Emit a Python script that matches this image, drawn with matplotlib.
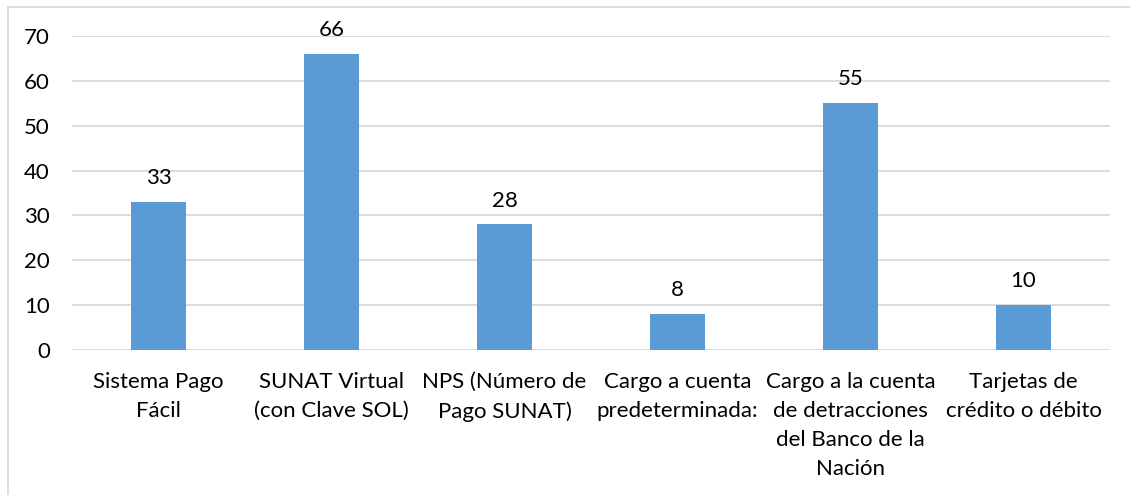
import matplotlib.pyplot as plt
from matplotlib.patches import Rectangle

categories = ["Sistema Pago\nFácil", "SUNAT Virtual\n(con Clave SOL)", "NPS (Número de\nPago SUNAT)",
              "Cargo a cuenta\npredeterminada:", "Cargo a la cuenta\nde detracciones\ndel Banco de la\nNación",
              "Tarjetas de\ncrédito o débito"]
values = [33, 66, 28, 8, 55, 10]
yticks = [0, 10, 20, 30, 40, 50, 60, 70]

W, H = 1130, 495
plt.rcParams["font.family"] = ["Lato", "DejaVu Sans"]

fig = plt.figure(figsize=(W / 100, H / 100), dpi=100)
ax = fig.add_axes([72 / W, (H - 350) / H, (1110 - 72) / W, (350 - 36) / H])

# chart border (cropped at right and bottom)
fig.patches.append(Rectangle((8 / W, -0.05), 1.1, (H - 7) / H + 0.05, transform=fig.transFigure,
                             fill=False, edgecolor="#D9D9D9", linewidth=1.3))

x = range(len(values))
bars = ax.bar(x, values, width=0.318, color="#5B9BD5", zorder=3)
for xi, v in zip(x, values):
    ax.annotate(str(v), (xi, v), xytext=(0, 10), textcoords="offset points",
                ha="center", va="bottom", fontsize=16, color="#000000")

ax.set_xlim(-0.5, len(values) - 0.5)
ax.set_ylim(0, 70)
ax.set_yticks(yticks)
ax.set_xticks(list(x))
ax.set_xticklabels(categories, fontsize=16, linespacing=1.55, va="top")
ax.tick_params(axis="y", length=0, pad=16, labelsize=16, labelcolor="#000000")
ax.tick_params(axis="x", length=0, pad=16, labelcolor="#000000")
ax.grid(axis="y", color="#D9D9D9", linewidth=1.3, zorder=0)
for s in ax.spines.values():
    s.set_visible(False)

fig.savefig("out.png", dpi=100)
